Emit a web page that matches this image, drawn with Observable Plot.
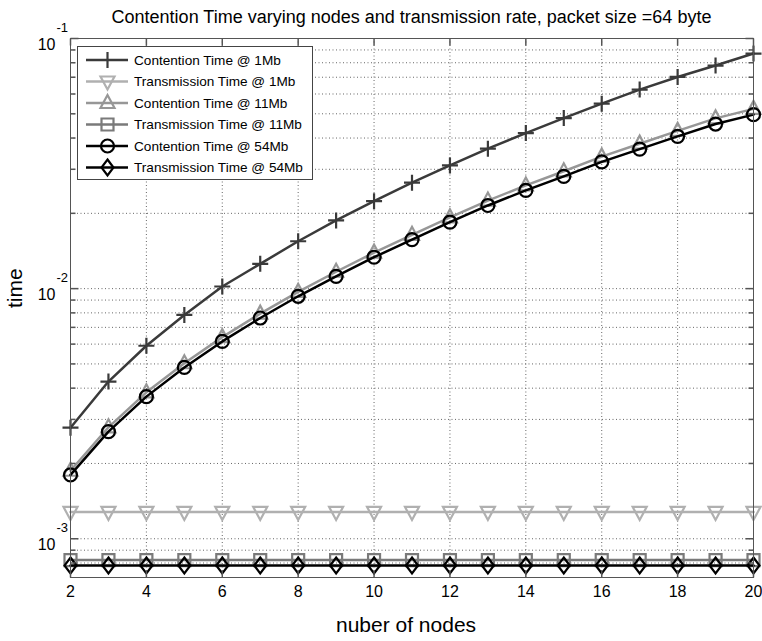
<!DOCTYPE html>
<html>
<head>
<meta charset="utf-8">
<script src="https://cdn.jsdelivr.net/npm/d3@7"></script>
<script src="https://cdn.jsdelivr.net/npm/@observablehq/plot@0.6"></script>
<style>
  html, body { margin: 0; padding: 0; background: #fff; }
  #wrap { position: relative; width: 762px; height: 641px; font-family: "Liberation Sans", Arial, sans-serif; }
  #title { position: absolute; left: 70px; width: 683px; top: 6px; text-align: center; font-size: 18px; line-height: 22px; color: #000; }
  #legend { position: absolute; left: 77px; top: 46px; width: 236px; height: 134px; background: #fff; border: 1px solid #444; box-sizing: border-box; }
</style>
</head>
<body>
<div id="wrap">
  <div id="chart"></div>
  <div id="title">Contention Time varying nodes and transmission rate, packet size =64 byte</div>
  <div id="legend"></div>
</div>
<script>
// ---- data ----
const nodes = [2, 3, 4, 5, 6, 7, 8, 9, 10, 11, 12, 13, 14, 15, 16, 17, 18, 19, 20];
const contention1Mb = [0.00278, 0.00425, 0.00591, 0.00785, 0.0102, 0.01256, 0.01547, 0.01873, 0.02237, 0.02651, 0.03109, 0.03627, 0.04187, 0.04808, 0.0549, 0.06248, 0.07018, 0.07796, 0.08708];
const transmission1Mb = [0.00128, 0.00128, 0.00128, 0.00128, 0.00128, 0.00128, 0.00128, 0.00128, 0.00128, 0.00128, 0.00128, 0.00128, 0.00128, 0.00128, 0.00128, 0.00128, 0.00128, 0.00128, 0.00128];
const contention11Mb = [0.00187, 0.00279, 0.00385, 0.00503, 0.0064, 0.00794, 0.00971, 0.01168, 0.01393, 0.01641, 0.01926, 0.02249, 0.02585, 0.02945, 0.0337, 0.03797, 0.04273, 0.04792, 0.0523];
const transmission11Mb = [0.000822, 0.000822, 0.000822, 0.000822, 0.000822, 0.000822, 0.000822, 0.000822, 0.000822, 0.000822, 0.000822, 0.000822, 0.000822, 0.000822, 0.000822, 0.000822, 0.000822, 0.000822, 0.000822];
const contention54Mb = [0.0018, 0.00268, 0.0037, 0.00484, 0.00615, 0.00763, 0.00932, 0.0112, 0.01335, 0.01571, 0.01843, 0.0215, 0.02469, 0.02809, 0.03211, 0.03613, 0.04062, 0.0455, 0.04961];
const transmission54Mb = [0.000782, 0.000782, 0.000782, 0.000782, 0.000782, 0.000782, 0.000782, 0.000782, 0.000782, 0.000782, 0.000782, 0.000782, 0.000782, 0.000782, 0.000782, 0.000782, 0.000782, 0.000782, 0.000782];
const seriesNames = ["Contention Time @ 1Mb", "Transmission Time @ 1Mb", "Contention Time @ 11Mb", "Transmission Time @ 11Mb", "Contention Time @ 54Mb", "Transmission Time @ 54Mb"];
const xTicks = [2, 4, 6, 8, 10, 12, 14, 16, 18, 20];
const yMajor = [0.001, 0.01, 0.1];
const yExponents = ["-3", "-2", "-1"];
const yMinor = [0.0008, 0.0009, 0.002, 0.003, 0.004, 0.005, 0.006, 0.007, 0.008, 0.009, 0.02, 0.03, 0.04, 0.05, 0.06, 0.07, 0.08, 0.09];
const titleText = "Contention Time varying nodes and transmission rate, packet size =64 byte";
const xLabel = "nuber of nodes";
const yLabel = "time";

// ---- symbols ----
const symPlus = {draw(c) { c.moveTo(-8, 0); c.lineTo(8, 0); c.moveTo(0, -8); c.lineTo(0, 8); }};
const symTriDown = {draw(c) { c.moveTo(-7, -5); c.lineTo(7, -5); c.lineTo(0, 8); c.closePath(); }};
const symTriUp = {draw(c) { c.moveTo(-7, 5); c.lineTo(7, 5); c.lineTo(0, -8); c.closePath(); }};
const symSquare = {draw(c) { c.rect(-6, -6, 12, 12); }};
const symCircle = {draw(c) { c.moveTo(6.5, 0); c.arc(0, 0, 6.5, 0, 2 * Math.PI); }};
const symDiamond = {draw(c) { c.moveTo(0, -8); c.lineTo(6, 0); c.lineTo(0, 8); c.lineTo(-6, 0); c.closePath(); }};
const tickRightMaj = {draw(c) { c.moveTo(0, 0); c.lineTo(8, 0); }};
const tickRightMin = {draw(c) { c.moveTo(0, 0); c.lineTo(5, 0); }};
const tickLeftMaj = {draw(c) { c.moveTo(0, 0); c.lineTo(-8, 0); }};
const tickLeftMin = {draw(c) { c.moveTo(0, 0); c.lineTo(-5, 0); }};
const tickDown = {draw(c) { c.moveTo(0, 0); c.lineTo(0, 7); }};
const tickUp = {draw(c) { c.moveTo(0, 0); c.lineTo(0, -7); }};

const seriesValues = [contention1Mb, transmission1Mb, contention11Mb, transmission11Mb, contention54Mb, transmission54Mb];
const seriesStyle = [
  {stroke: "#3a3a3a", symbol: symPlus},
  {stroke: "#b0b0b0", symbol: symTriDown},
  {stroke: "#979797", symbol: symTriUp},
  {stroke: "#7a7a7a", symbol: symSquare},
  {stroke: "#000000", symbol: symCircle},
  {stroke: "#000000", symbol: symDiamond}
];

const table = seriesNames.map((name, k) => nodes.map((n, i) => ({n, t: seriesValues[k][i], series: name})));

const seriesMarks = table.flatMap((rows, k) => [
  Plot.line(rows, {x: "n", y: "t", stroke: seriesStyle[k].stroke, strokeWidth: 2.5}),
  Plot.dot(rows, {x: "n", y: "t", symbol: seriesStyle[k].symbol, stroke: seriesStyle[k].stroke, fill: "none", strokeWidth: 2.2})
]);

const gridStyle = {stroke: "#666", strokeOpacity: 1, strokeWidth: 1, strokeDasharray: "1,2.5"};

const chart = Plot.plot({
  width: 762,
  height: 641,
  marginLeft: 70,
  marginRight: 9,
  marginTop: 38,
  marginBottom: 64,
  style: {fontFamily: "'Liberation Sans', Arial, sans-serif", background: "#fff", color: "#000"},
  x: {domain: [2, 20], axis: null},
  y: {type: "log", domain: [0.0007, 0.1], axis: null},
  marks: [
    Plot.gridX(xTicks, gridStyle),
    Plot.gridY(yMinor.concat(yMajor), gridStyle),
    ...seriesMarks,
    Plot.frame({stroke: "#555", strokeWidth: 1}),
    Plot.dot(yMajor, {y: d => d, frameAnchor: "left", symbol: tickRightMaj, stroke: "#555", fill: "none"}),
    Plot.dot(yMinor, {y: d => d, frameAnchor: "left", symbol: tickRightMin, stroke: "#555", fill: "none"}),
    Plot.dot(yMajor, {y: d => d, frameAnchor: "right", symbol: tickLeftMaj, stroke: "#555", fill: "none"}),
    Plot.dot(yMinor, {y: d => d, frameAnchor: "right", symbol: tickLeftMin, stroke: "#555", fill: "none"}),
    Plot.dot(xTicks, {x: d => d, frameAnchor: "top", symbol: tickDown, stroke: "#555", fill: "none"}),
    Plot.dot(xTicks, {x: d => d, frameAnchor: "bottom", symbol: tickUp, stroke: "#555", fill: "none"}),
    Plot.text(xTicks, {x: d => d, frameAnchor: "bottom", dy: 19, fontSize: 16, fill: "#000"}),
    Plot.text(yMajor, {y: d => d, frameAnchor: "left", text: () => "10", textAnchor: "end", dx: -15, dy: 6, fontSize: 16, fill: "#000"}),
    Plot.text(yMajor, {y: d => d, frameAnchor: "left", text: (d, i) => yExponents[i], textAnchor: "start", dx: -14, dy: -11, fontSize: 13, fill: "#000"}),
    Plot.text([xLabel], {frameAnchor: "bottom", dx: -6, dy: 54, fontSize: 21, fill: "#000"}),
    Plot.text([yLabel], {frameAnchor: "left", dx: -55, rotate: -90, fontSize: 21, fill: "#000"})
  ]
});
document.getElementById("chart").appendChild(chart);
document.getElementById("title").textContent = titleText;

// ---- legend ----
const legend = d3.select("#legend");
const rowY = [13, 34.5, 56, 77.5, 99, 120.5];
const lsvg = legend.append("svg").attr("width", 234).attr("height", 132).style("position", "absolute").style("left", "0px").style("top", "0px");
seriesNames.forEach((name, k) => {
  const y = rowY[k];
  lsvg.append("line").attr("x1", 8).attr("x2", 50).attr("y1", y).attr("y2", y)
    .attr("stroke", seriesStyle[k].stroke).attr("stroke-width", 2.5);
  const p = d3.path();
  seriesStyle[k].symbol.draw(p);
  lsvg.append("path").attr("d", p.toString()).attr("transform", `translate(29.5,${y})`)
    .attr("fill", "none").attr("stroke", seriesStyle[k].stroke).attr("stroke-width", 2.2);
  lsvg.append("text").attr("x", 56).attr("y", y).attr("dy", "0.35em")
    .attr("font-size", 13.6).attr("fill", "#000")
    .attr("font-family", "'Liberation Sans', Arial, sans-serif").text(name);
});
</script>
</body>
</html>
